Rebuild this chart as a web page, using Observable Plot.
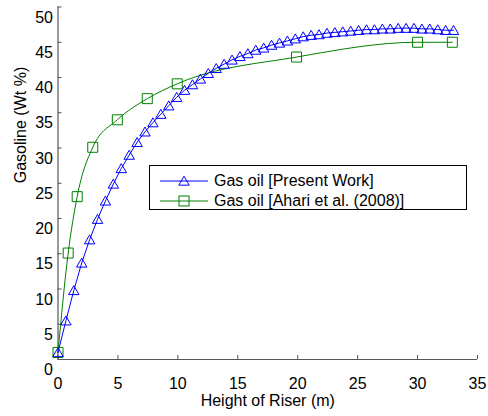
<!DOCTYPE html>
<html>
<head>
<meta charset="utf-8">
<script src="https://cdn.jsdelivr.net/npm/d3@7"></script>
<script src="https://cdn.jsdelivr.net/npm/@observablehq/plot@0.6"></script>
<style>
  html, body { margin: 0; padding: 0; background: #fff; }
  #wrap { position: relative; width: 488px; height: 416px; font-family: "Liberation Sans", Arial, sans-serif; }
  #legend { position: absolute; left: 149px; top: 165px; width: 318px; height: 45px; border: 1px solid #000; background: #fff; box-sizing: border-box; }
  .row { position: absolute; left: 0; height: 20px; display: flex; align-items: center; font-size: 16px; color: #000; white-space: nowrap; }
  .row svg { display: block; margin-left: 10px; margin-right: 6px; }
</style>
</head>
<body>
<div id="wrap"></div>
<script>
// Height of riser (m) and gasoline yield (wt %)
const presentX = [0,0.66,1.32,1.98,2.64,3.30,3.96,4.62,5.28,5.94,6.60,7.26,7.92,8.58,9.24,9.90,10.56,11.22,11.88,12.54,13.20,13.86,14.52,15.18,15.84,16.50,17.16,17.82,18.48,19.14,19.80,20.46,21.12,21.78,22.44,23.10,23.76,24.42,25.08,25.74,26.40,27.06,27.72,28.38,29.04,29.70,30.36,31.02,31.68,32.34,33.00];
const presentY = [1.0,5.5,9.8,13.7,17.0,19.9,22.5,24.9,27.1,29.0,30.8,32.3,33.6,34.8,36.0,37.2,38.2,39.0,39.8,40.6,41.3,41.9,42.5,43.0,43.4,43.9,44.2,44.6,44.9,45.2,45.5,45.8,46.0,46.1,46.3,46.4,46.5,46.6,46.7,46.8,46.8,46.9,46.9,47.0,47.0,47.0,46.9,46.9,46.8,46.7,46.7];
const ahariX = [0,0.85,1.6,2.9,4.95,7.45,9.95,19.9,30,32.9];
const ahariY = [1.0,15.1,23.1,30.1,34.0,37.0,39.1,42.9,45.0,45.0];
const xTicks = [0,5,10,15,20,25,30,35];
const yTicks = [0,5,10,15,20,25,30,35,40,45,50];
const xLabel = "Height of Riser (m)";
const yLabel = "Gasoline (Wt %)";
const seriesNames = ["Gas oil [Present Work]", "Gas oil [Ahari et al. (2008)]"];
const colors = ["#0000ff", "#008000"];

const present = presentX.map((x, i) => ({x, y: presentY[i]}));
const ahari = ahariX.map((x, i) => ({x, y: ahariY[i]}));

const triSym = {draw(ctx) { ctx.moveTo(0, -4.8); ctx.lineTo(5.2, 4.2); ctx.lineTo(-5.2, 4.2); ctx.closePath(); }};
const sqSym = {draw(ctx) { ctx.rect(-5, -5, 10, 10); }};

const axisColor = "#555";
const chart = Plot.plot({
  width: 488, height: 416,
  marginLeft: 57.5, marginRight: 11, marginTop: 6.5, marginBottom: 57,
  x: {domain: [0, 35], axis: null},
  y: {domain: [0, 50], axis: null},
  style: {fontFamily: "'Liberation Sans', Arial, sans-serif", fontSize: "16px", background: "#fff", color: "#000"},
  marks: [
    Plot.ruleY([0], {stroke: axisColor, strokeWidth: 1.2}),
    Plot.ruleX([0], {stroke: axisColor, strokeWidth: 1.2}),
    Plot.ruleX(xTicks, {x: d => d, y1: 0, y2: 0.57, stroke: axisColor}),
    Plot.ruleY(yTicks, {y: d => d, x1: 0, x2: 0.34, stroke: axisColor}),
    Plot.text(xTicks, {x: d => d, y: 0, dy: 24, text: d => String(d), fill: "#000"}),
    Plot.text(yTicks, {x: 0, y: d => d, dx: -5, dy: 10.5, textAnchor: "end", text: d => String(d), fill: "#000"}),
    Plot.line(ahari, {x: "x", y: "y", stroke: colors[1], strokeWidth: 1, curve: "monotone-x"}),
    Plot.line(present, {x: "x", y: "y", stroke: colors[0], strokeWidth: 1}),
    Plot.dot(ahari, {x: "x", y: "y", symbol: sqSym, stroke: colors[1], fill: "none", strokeWidth: 1}),
    Plot.dot(present, {x: "x", y: "y", symbol: triSym, stroke: colors[0], fill: "none", strokeWidth: 1}),
    Plot.text([xLabel], {frameAnchor: "bottom", dy: 46, text: d => d, fill: "#000"}),
    Plot.text([yLabel], {frameAnchor: "left", dx: -37, rotate: -90, text: d => d, fill: "#000"})
  ]
});

const wrap = document.getElementById("wrap");
wrap.appendChild(chart);

// Legend overlay
const legend = document.createElement("div");
legend.id = "legend";
const markers = [
  '<polygon points="24,4.2 29.2,13.2 18.8,13.2" fill="none" stroke="' + colors[0] + '"/>',
  '<rect x="19" y="4" width="10" height="10" fill="none" stroke="' + colors[1] + '"/>'
];
seriesNames.forEach((name, i) => {
  const row = document.createElement("div");
  row.className = "row";
  row.style.top = (5 + i * 20) + "px";
  row.innerHTML = '<svg width="48" height="18"><line x1="0" y1="9" x2="48" y2="9" stroke="' + colors[i] + '" stroke-width="1"/>' + markers[i] + '</svg><span>' + name + '</span>';
  legend.appendChild(row);
});
wrap.appendChild(legend);
</script>
</body>
</html>
